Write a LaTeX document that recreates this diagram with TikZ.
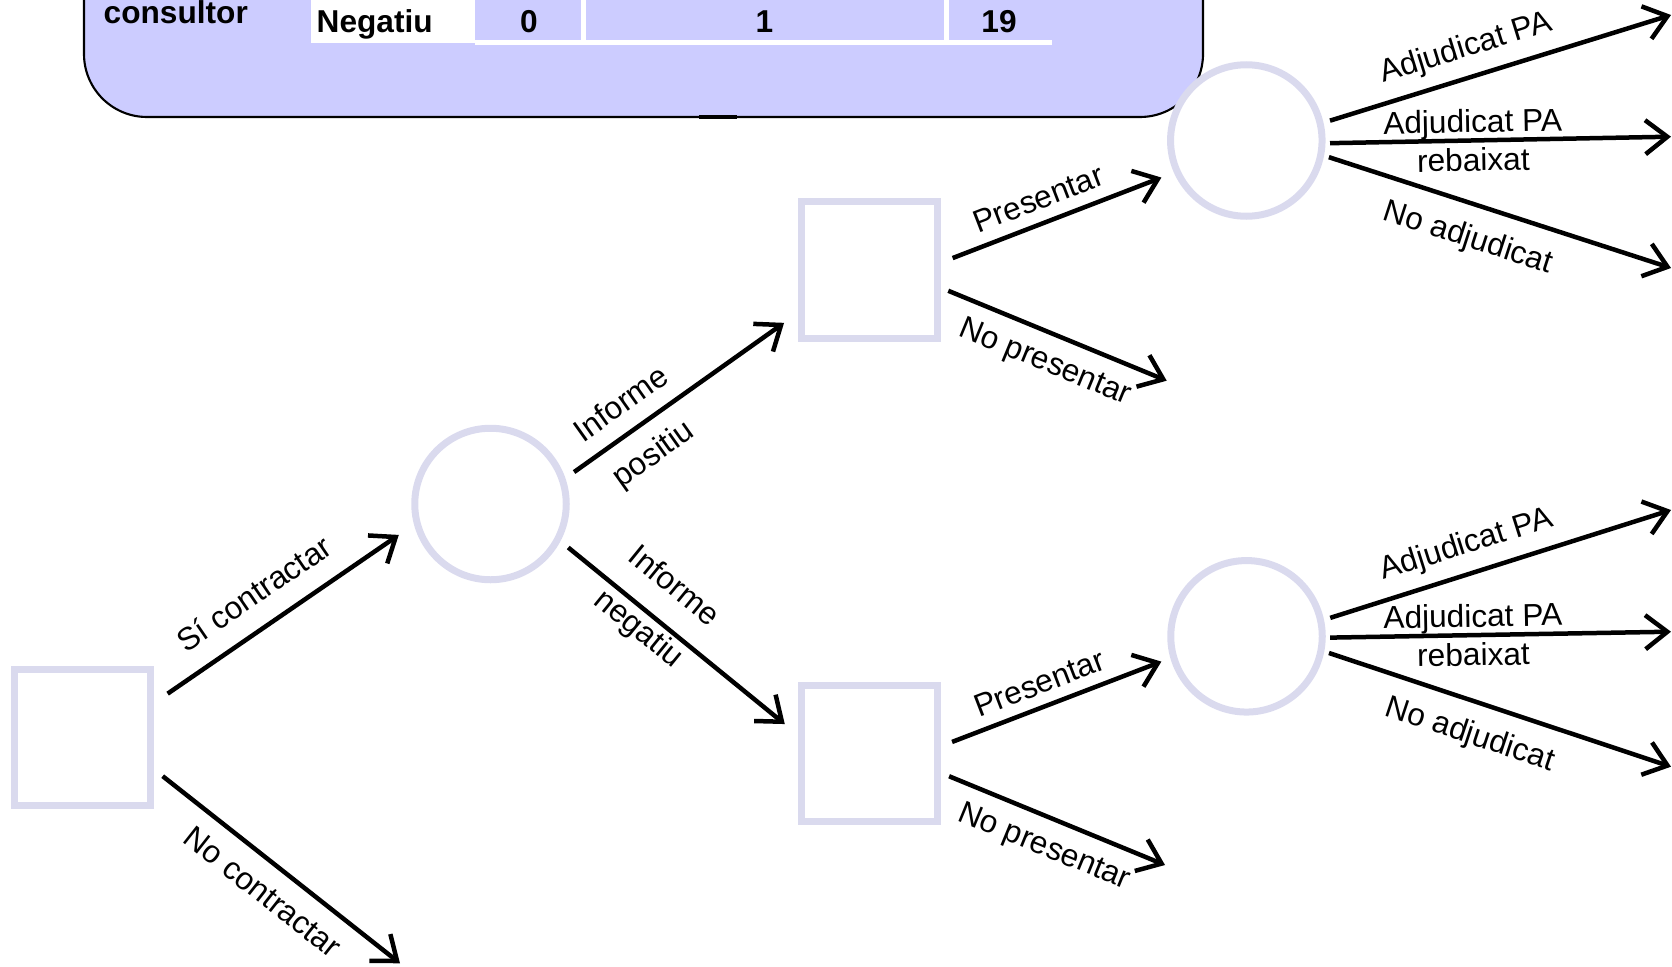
\documentclass[tikz,border=0pt]{standalone}
\usepackage{fontspec}
\setmainfont{Liberation Sans}
\usetikzlibrary{positioning, arrows.meta}
\definecolor{tblue}{RGB}{204,204,255}
\definecolor{nodeline}{RGB}{218,218,238}

\begin{document}
\begin{tikzpicture}[
        >={Straight Barb[length=0.22cm,width=0.34cm]},
        decision/.style={draw=nodeline, line width=0.07cm, minimum size=1.365cm},
        chance/.style={circle, draw=nodeline, line width=0.07cm, minimum size=1.515cm},
        arr/.style={->, line width=0.045cm},
        lbl/.style={sloped, inner sep=0pt, outer sep=0pt, font=\fontsize{9pt}{11pt}\selectfont},
        cell/.style={inner sep=0pt, font=\fontsize{9pt}{11pt}\selectfont\bfseries}]
            \useasboundingbox (0,0) rectangle (16.72,9.66);
            \clip (0,0) rectangle (16.72,9.66);

            \draw[fill=tblue, line width=0.6pt, rounded corners=0.63cm] (0.84,10.7) rectangle (12.03,8.49);
            \draw[line width=0.035cm] (6.99,8.49) -- (7.37,8.49);
            \fill[white] (3.11,9.23) rectangle (4.75,9.8);
            \draw[white, line width=0.05cm] (4.75,9.235) -- (10.52,9.235);
            \draw[white, line width=0.05cm] (5.83,9.235) -- (5.83,9.8);
            \draw[white, line width=0.05cm] (9.46,9.235) -- (9.46,9.8);
            \node[cell, anchor=base west] (cons) at (1.03,9.42) {consultor};
            \node[cell, anchor=base west] (neg) at (3.16,9.34) {Negatiu};
            \node[cell, anchor=base] (v0) at (5.29,9.34) {0};
            \node[cell, anchor=base] (v1) at (7.645,9.34) {1};
            \node[cell, anchor=base] (v19) at (9.99,9.34) {19};

            \node[decision] (D0) at (0.827,2.283) {};
            \node[chance] (C1) at (4.905,4.62) {};
            \node[decision] (D1) at (8.695,6.96) {};
            \node[decision] (D2) at (8.693,2.123) {};
            \node[chance] (C2) at (12.463,8.255) {};
            \node[chance] (C3) at (12.465,3.297) {};

            \coordinate (nocon) at (4.00,0.027);
            \coordinate (nopres1) at (11.667,5.853);
            \coordinate (nopres2) at (11.65,1.01);
            \coordinate (adj1) at (16.71,9.51);
            \coordinate (rebx1) at (16.71,8.293);
            \coordinate (noadj1) at (16.71,6.98);
            \coordinate (adj2) at (16.71,4.56);
            \coordinate (rebx2) at (16.71,3.343);
            \coordinate (noadj2) at (16.71,1.993);

            \draw[arr, shorten <=0.16cm, shorten >=0.184cm] (D0.26.6) -- node[lbl, above=0.22cm, pos=0.457] {Sí contractar} (C1.195.9);
            \draw[arr, shorten <=0.105cm] (D0.336.8) -- node[lbl, below=0.18cm, pos=0.515] {No contractar} (nocon);
            \draw[arr, shorten <=0.106cm, shorten >=0.168cm] (C1.19.3) -- node[lbl, above=0.18cm, pos=0.31] {Informe} node[lbl, below=0.18cm, pos=0.3] {positiu} (D1.211.3);
            \draw[arr, shorten <=0.1cm, shorten >=0.165cm] (C1.332.2) -- node[lbl, above=0.27cm, pos=0.38] {Informe} node[lbl, below=0.05cm, pos=0.38] {negatiu} (D2.165.5);

            \draw[arr, shorten <=0.122cm, shorten >=0.134cm] (D1.6.7) -- node[lbl, above=0.135cm, pos=0.455] {Presentar} (C2.204.7);
            \draw[arr, shorten <=0.076cm] (D1.346.1) -- node[lbl, below=0.16cm, pos=0.51] {No presentar} (nopres1);
            \draw[arr, shorten <=0.118cm, shorten >=0.096cm] (D2.6.4) -- node[lbl, above=0.125cm, pos=0.465] {Presentar} (C3.196.9);
            \draw[arr, shorten <=0.087cm] (D2.345.6) -- node[lbl, below=0.16cm, pos=0.51] {No presentar} (nopres2);

            \draw[arr, shorten <=0.068cm] (C2.13) -- node[lbl, above=0.138cm, pos=0.435] {Adjudicat PA} (adj1);
            \draw[arr, shorten <=0.045cm] (C2.358.6) -- node[lbl, align=center, pos=0.427] {Adjudicat PA\\rebaixat} (rebx1);
            \draw[arr, shorten <=0.05cm] (C2.349.4) -- node[lbl, below=0.2cm, pos=0.445] {No adjudicat} (noadj1);
            \draw[arr, shorten <=0.065cm] (C3.12.9) -- node[lbl, above=0.135cm, pos=0.435] {Adjudicat PA} (adj2);
            \draw[arr, shorten <=0.043cm] (C3.359.2) -- node[lbl, align=center, pos=0.427] {Adjudicat PA\\rebaixat} (rebx2);
            \draw[arr, shorten <=0.049cm] (C3.349.2) -- node[lbl, below=0.19cm, pos=0.45] {No adjudicat} (noadj2);
        \end{tikzpicture}
\end{document}
